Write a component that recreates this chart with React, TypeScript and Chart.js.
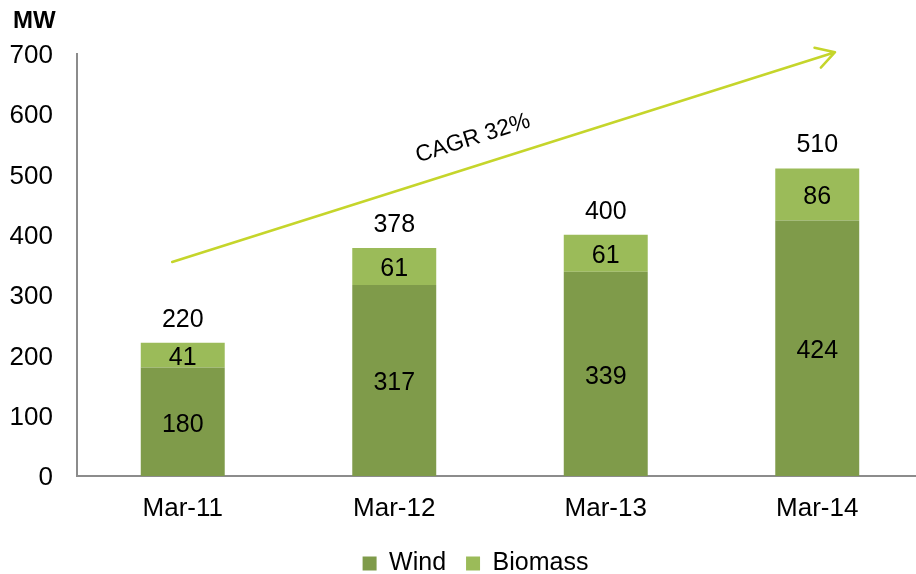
import React, { useEffect, useRef } from "react";
import { Chart, registerables } from "chart.js";

Chart.register(...registerables);

const FONT = "'Liberation Sans', Arial, sans-serif";

const categories = ["Mar-11", "Mar-12", "Mar-13", "Mar-14"];
const windValues = [180, 317, 339, 424];
const biomassValues = [41, 61, 61, 86];
const totalLabels = [220, 378, 400, 510];
const seriesNames = ["Wind", "Biomass"];
const yMin = 0;
const yMax = 700;
const yStep = 100;
const unitLabel = "MW";
const cagrLabel = "CAGR 32%";
// arrow annotation in data space (category index, value)
const arrowFrom = { index: -0.05, value: 355 };
const arrowTo = { index: 3.084, value: 703 };

const WIND_COLOR = "#7F9B4A";
const BIOMASS_COLOR = "#9BBB59";
const ARROW_COLOR = "#C5D52B";
const AXIS_COLOR = "#8C8C8C";

const legendShiftPlugin = {
  id: "legendShift",
  afterLayout(chart: any) {
    const lg = chart.legend;
    if (lg) {
      lg.left += 14;
      lg.right += 14;
    }
  },
};

const overlayPlugin = {
  id: "overlay",
  afterDatasetsDraw(chart: any) {
    const ctx = chart.ctx;
    const xs = chart.scales.x;
    const ys = chart.scales.y;
    ctx.save();
    ctx.fillStyle = "#000";
    ctx.textAlign = "center";
    ctx.textBaseline = "middle";
    ctx.font = `25px ${FONT}`;
    chart.data.datasets.forEach((ds: any, di: number) => {
      const meta = chart.getDatasetMeta(di);
      meta.data.forEach((el: any, i: number) => {
        const p = el.getProps(["x", "y", "base"], true);
        ctx.fillText(String(ds.data[i]), p.x, (p.y + p.base) / 2 + 3);
      });
    });
    const topMeta = chart.getDatasetMeta(chart.data.datasets.length - 1);
    topMeta.data.forEach((el: any, i: number) => {
      const p = el.getProps(["x", "y"], true);
      ctx.fillText(String(totalLabels[i]), p.x, p.y - 23);
    });

    // CAGR arrow
    const x1 = xs.getPixelForValue(arrowFrom.index);
    const y1 = ys.getPixelForValue(arrowFrom.value);
    const x2 = xs.getPixelForValue(arrowTo.index);
    const y2 = ys.getPixelForValue(arrowTo.value);
    ctx.strokeStyle = ARROW_COLOR;
    ctx.lineWidth = 2.5;
    ctx.lineCap = "round";
    ctx.lineJoin = "round";
    ctx.beginPath();
    ctx.moveTo(x1, y1);
    ctx.lineTo(x2, y2);
    const ang = Math.atan2(y2 - y1, x2 - x1);
    const headLen = 21;
    const headAng = Math.PI / 6;
    ctx.moveTo(x2 - headLen * Math.cos(ang - headAng), y2 - headLen * Math.sin(ang - headAng));
    ctx.lineTo(x2, y2);
    ctx.lineTo(x2 - headLen * Math.cos(ang + headAng), y2 - headLen * Math.sin(ang + headAng));
    ctx.stroke();

    // CAGR label along the arrow
    const t = 0.466;
    const mx = x1 + (x2 - x1) * t;
    const my = y1 + (y2 - y1) * t;
    const nx = Math.sin(ang);
    const ny = -Math.cos(ang);
    ctx.save();
    ctx.translate(mx + nx * 27, my + ny * 27);
    ctx.rotate(ang);
    ctx.fillStyle = "#000";
    ctx.font = `23px ${FONT}`;
    ctx.textAlign = "center";
    ctx.textBaseline = "middle";
    ctx.fillText(cagrLabel, 0, 0);
    ctx.restore();

    // unit label
    ctx.font = `bold 24px ${FONT}`;
    ctx.textAlign = "left";
    ctx.textBaseline = "middle";
    ctx.fillText(unitLabel, 13, 21);
    ctx.restore();
  },
};

export default function App() {
  const ref = useRef<HTMLCanvasElement>(null);

  useEffect(() => {
    document.body.style.margin = "0";
    document.body.style.overflow = "hidden";
    const canvas = ref.current!;
    const chart = new Chart(canvas, {
      type: "bar",
      data: {
        labels: categories,
        datasets: [
          {
            label: seriesNames[0],
            data: windValues,
            backgroundColor: WIND_COLOR,
            borderWidth: 0,
            categoryPercentage: 1,
            barPercentage: 0.397,
          },
          {
            label: seriesNames[1],
            data: biomassValues,
            backgroundColor: BIOMASS_COLOR,
            borderWidth: 0,
            categoryPercentage: 1,
            barPercentage: 0.397,
          },
        ],
      },
      options: {
        responsive: false,
        animation: false,
        devicePixelRatio: 1,
        layout: { padding: { left: 0, right: 0, top: 54, bottom: 0 } },
        plugins: {
          tooltip: { enabled: false },
          legend: {
            position: "bottom",
            labels: {
              color: "#000",
              font: { family: FONT, size: 25 },
              boxWidth: 14,
              boxHeight: 14,
              padding: 20,
            },
          },
        },
        scales: {
          x: {
            stacked: true,
            grid: { display: false, drawTicks: false },
            border: { display: true, color: AXIS_COLOR, width: 2 },
            ticks: {
              color: "#000",
              font: { family: FONT, size: 26 },
              padding: 17,
              maxRotation: 0,
            },
            afterFit: (s: any) => {
              s.height = 55;
            },
          },
          y: {
            stacked: true,
            min: yMin,
            max: yMax,
            grid: { display: false, drawTicks: false },
            border: { display: true, color: AXIS_COLOR, width: 2 },
            ticks: {
              stepSize: yStep,
              color: "#000",
              font: { family: FONT, size: 26 },
              padding: 24,
              labelOffset: 2,
            },
            afterFit: (s: any) => {
              s.width = 77;
            },
          },
        },
      },
      plugins: [legendShiftPlugin, overlayPlugin],
    });
    return () => chart.destroy();
  }, []);

  return (
    <div style={{ width: 916, height: 574, overflow: "hidden", position: "relative" }}>
      <canvas ref={ref} width={923} height={586} style={{ display: "block" }} />
    </div>
  );
}
